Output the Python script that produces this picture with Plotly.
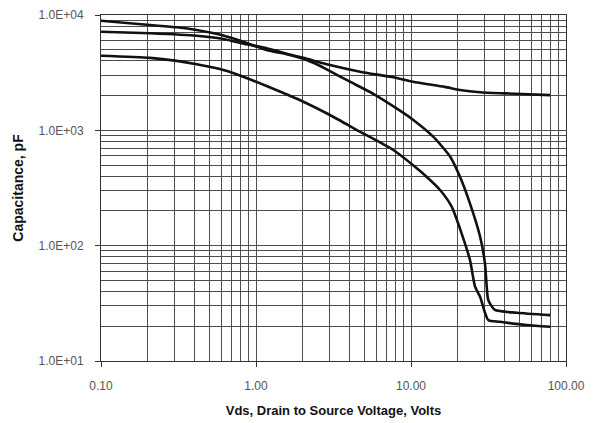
import plotly.graph_objects as go

# Vds (V) and capacitance (pF)
vds_a = [0.1, 0.207, 0.308, 0.414, 0.615, 0.828, 1.17, 1.6, 2.02, 2.5, 3.0, 4.04, 5.71,
         8.49, 10.35, 13.9, 17.9, 20.7, 24.0, 27.9, 30.0, 30.8, 31.5, 34.8, 48.1, 79]
cap_a = [8920, 8190, 7820, 7410, 6650, 5870, 4980, 4550, 4180, 3700, 3260, 2640, 2070,
         1480, 1229, 881, 591, 396, 233, 120, 70.3, 44.1, 33.8, 27.7, 26.2, 25.0]

vds_b = [0.1, 0.207, 0.414, 0.615, 0.871, 1.17, 1.6, 2.02, 3.0, 4.69, 7.69, 10.3, 16.5,
         20.7, 27.9, 41.4, 79]
cap_b = [7165, 6940, 6615, 6195, 5570, 5145, 4600, 4250, 3686, 3225, 2884, 2640, 2380,
         2240, 2140, 2090, 2020]

vds_c = [0.1, 0.207, 0.308, 0.414, 0.615, 0.828, 1.17, 2.02, 3.0, 4.69, 7.69, 10.9,
         12.6, 15.4, 18.3, 21.2, 24.0, 25.9, 27.9, 31.5, 37.5, 55.7, 79]
cap_c = [4438, 4250, 4000, 3737, 3336, 2917, 2420, 1771, 1358, 973, 675, 469,
         396, 304, 218, 128, 75.2, 44.1, 36.1, 22.7, 21.9, 20.5, 19.8]

x_ticks = [0.1, 1, 10, 100]
x_labels = ["0.10", "1.00", "10.00", "100.00"]
y_ticks = [10, 100, 1000, 10000]
y_labels = ["1.0E+01", "1.0E+02", "1.0E+03", "1.0E+04"]

x_minor = [m * d for d in [0.1, 1, 10] for m in range(2, 10)]
y_minor = [m * d for d in [10, 100, 1000] for m in range(2, 10)]

fig = go.Figure()
for xs, ys in [(vds_a, cap_a), (vds_b, cap_b), (vds_c, cap_c)]:
    fig.add_trace(go.Scatter(x=xs, y=ys, mode="lines",
                             line=dict(color="#111111", width=2.6, shape="spline", smoothing=0.6),
                             showlegend=False))

grid = "#4d4d4d"
fig.update_xaxes(
    type="log", range=[-1, 2], tickvals=x_ticks, ticktext=x_labels,
    showgrid=True, gridcolor=grid, gridwidth=1,
    minor=dict(tickvals=x_minor, showgrid=True, gridcolor=grid, gridwidth=1, ticks=""),
    ticks="outside", ticklen=5, tickcolor="#333", ticklabelstandoff=9,
    showline=True, linecolor="#333", linewidth=1, mirror=True,
    tickfont=dict(family="Arial", size=12, color="#555"),
    title=dict(text="<b>Vds, Drain to Source Voltage, Volts</b>",
               font=dict(family="Arial", size=13, color="#111"), standoff=13),
)
fig.update_yaxes(
    type="log", range=[1, 4], tickvals=y_ticks, ticktext=y_labels,
    showgrid=True, gridcolor=grid, gridwidth=1,
    minor=dict(tickvals=y_minor, showgrid=True, gridcolor=grid, gridwidth=1, ticks=""),
    ticks="outside", ticklen=5, tickcolor="#333", ticklabelstandoff=9,
    showline=True, linecolor="#333", linewidth=1, mirror=True,
    tickfont=dict(family="Arial", size=12, color="#555"),
    title=dict(text="<b>Capacitance, pF</b>",
               font=dict(family="Arial", size=14, color="#111"), standoff=11),
)
# the page body has an 8px margin, so the figure is sized to land where the original sits
fig.update_layout(
    width=589, height=415,
    margin=dict(l=93, r=31, t=7, b=62, autoexpand=False),
    paper_bgcolor="white", plot_bgcolor="white",
)
fig.write_html("out.html")
